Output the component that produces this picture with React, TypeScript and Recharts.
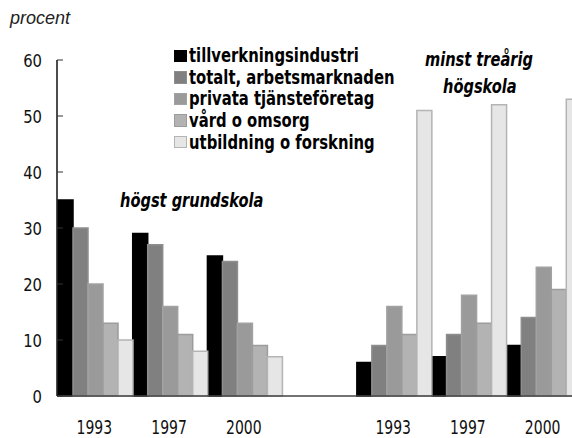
import {BarChart, Bar, XAxis, YAxis} from 'recharts';

const years = ['1993', '1997', '2000', '', '1993', '1997', '2000'];

const tillverkning = [35, 29, 25, null, 6, 7, 9];
const totalt = [30, 27, 24, null, 9, 11, 14];
const privata = [20, 16, 13, null, 16, 18, 23];
const vard = [13, 11, 9, null, 11, 13, 19];
const utbildning = [10, 8, 7, null, 51, 52, 53];

const yTicks = [0, 10, 20, 30, 40, 50, 60];

const series = [
  {key: 'tillverkning', name: 'tillverkningsindustri', fill: '#000000', stroke: '#000000', values: tillverkning},
  {key: 'totalt', name: 'totalt, arbetsmarknaden', fill: '#808080', stroke: '#8e8e8e', values: totalt},
  {key: 'privata', name: 'privata tjänsteföretag', fill: '#9a9a9a', stroke: '#a2a2a2', values: privata},
  {key: 'vard', name: 'vård o omsorg', fill: '#b3b3b3', stroke: '#9c9c9c', values: vard},
  {key: 'utbildning', name: 'utbildning o forskning', fill: '#e6e6e6', stroke: '#b4b4b4', values: utbildning},
];

const data = years.map((year, i) => {
  const row: any = {year};
  series.forEach(s => {
    row[s.key] = s.values[i];
  });
  return row;
});

// DejaVu squeezed horizontally to imitate the condensed face of the original
const FONT = "'DejaVu Sans', sans-serif";

const YTick = ({x, y, payload}: any) => (
  <g>
    <line x1={x + 15} x2={x + 21} y1={y} y2={y} stroke="#333" strokeWidth={1} />
    <text
      transform={`translate(${x},${y}) scale(0.8,1)`}
      dy="0.36em"
      textAnchor="end"
      fill="#111"
      fontSize={18.5}
      fontFamily={FONT}>
      {payload.value}
    </text>
  </g>
);

const XTick = ({x, y, payload}: any) => (
  <text
    transform={`translate(${x},${y + 38}) scale(0.7,1)`}
    textAnchor="middle"
    fill="#111"
    fontSize={20}
    fontFamily={FONT}>
    {payload.value}
  </text>
);

const squeeze = (sx: number): React.CSSProperties => ({
  display: 'inline-block',
  transform: `scaleX(${sx})`,
  transformOrigin: 'left center',
  whiteSpace: 'nowrap',
});

const note: React.CSSProperties = {
  position: 'absolute',
  fontFamily: FONT,
  fontWeight: 700,
  fontStyle: 'italic',
  fontSize: 20,
  color: '#000',
  whiteSpace: 'nowrap',
  lineHeight: '25px',
};

export default function App() {
  return (
    <div
      style={{
        position: 'fixed',
        top: 0,
        left: 0,
        width: 572,
        height: 438,
        overflow: 'hidden',
        background: '#fff',
      }}>
      <BarChart
        width={580}
        height={438}
        data={data}
        margin={{top: 60, right: 0, left: 0, bottom: 0}}
        barCategoryGap={1}
        barGap={0}>
        <XAxis
          dataKey="year"
          axisLine={{stroke: '#444', strokeWidth: 1.5}}
          tickLine={false}
          tickSize={0}
          tickMargin={0}
          height={42}
          interval={0}
          tick={<XTick />}
        />
        <YAxis
          width={57}
          domain={[0, 60]}
          ticks={yTicks}
          interval={0}
          axisLine={{stroke: '#111', strokeWidth: 1.5}}
          tickLine={false}
          tickSize={0}
          tickMargin={15}
          tick={<YTick />}
        />
        {series.map(s => (
          <Bar
            key={s.key}
            dataKey={s.key}
            name={s.name}
            fill={s.fill}
            stroke={s.stroke}
            strokeWidth={1.5}
            isAnimationActive={false}
          />
        ))}
      </BarChart>

      <div
        style={{
          position: 'absolute',
          left: 10,
          top: 8,
          fontFamily: "'Liberation Sans', Arial, sans-serif",
          fontStyle: 'italic',
          fontSize: 18,
          color: '#222',
        }}>
        procent
      </div>

      <div style={{position: 'absolute', left: 174, top: 45}}>
        {series.map(s => (
          <div
            key={s.key}
            style={{
              display: 'flex',
              alignItems: 'center',
              height: 21.6,
              fontFamily: FONT,
              fontWeight: 700,
              fontSize: 19.5,
              color: '#000',
            }}>
            <span
              style={{
                display: 'inline-block',
                flex: 'none',
                width: 10.5,
                height: 10.5,
                background: s.fill,
                border: `1.5px solid ${s.stroke}`,
                marginRight: 2.5,
              }}
            />
            <span style={squeeze(0.76)}>{s.name}</span>
          </div>
        ))}
      </div>

      <div style={{...note, left: 120, top: 188}}>
        <span style={squeeze(0.73)}>högst grundskola</span>
      </div>
      <div style={{...note, left: 425, top: 47}}>
        <span style={squeeze(0.73)}>minst treårig</span>
      </div>
      <div style={{...note, left: 443, top: 74}}>
        <span style={squeeze(0.73)}>högskola</span>
      </div>
    </div>
  );
}
